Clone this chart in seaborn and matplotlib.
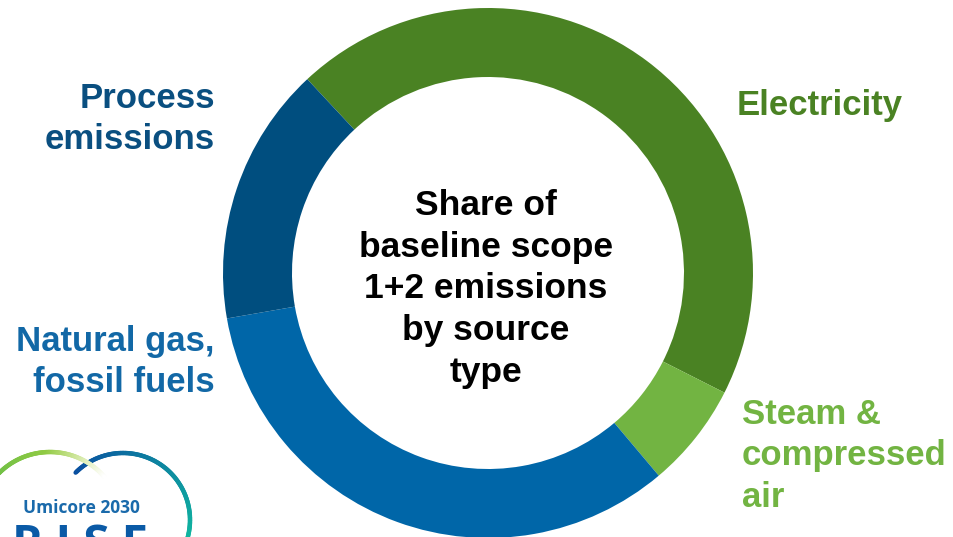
import numpy as np
import matplotlib
matplotlib.use("Agg")
import matplotlib.pyplot as plt
import seaborn as sns
from matplotlib.collections import LineCollection
from matplotlib.colors import to_rgb

# data
sources = ["Electricity", "Steam &\ncompressed\nair", "Natural gas,\nfossil fuels", "Process\nemissions"]
shares = [44.4, 6.4, 33.4, 15.8]
colors = ["#4a8223", "#72b442", "#0066a8", "#004e7f"]
label_colors = ["#4a8223", "#72b442", "#1268a6", "#0a4f80"]
center_title = "Share of\nbaseline scope\n1+2 emissions\nby source\ntype"

sns.set_theme(style="white")
plt.rcParams['font.family'] = ['Liberation Sans', 'DejaVu Sans']

W, H = 954, 537
fig = plt.figure(figsize=(W / 100, H / 100), dpi=100)
fig.patch.set_facecolor("white")

# donut
cx, cy, R = 488, 273, 265
ax = fig.add_axes([(cx - R) / W, (H - cy - R) / H, 2 * R / W, 2 * R / H])
ax.pie(shares, colors=colors, startangle=133, counterclock=False, radius=1,
       wedgeprops=dict(width=69 / R, edgecolor="none"))
ax.set_xlim(-1, 1)
ax.set_ylim(-1, 1)
ax.set_aspect("equal")
ax.axis("off")

# overlay in pixel coordinates for labels and logo
ov = fig.add_axes([0, 0, 1, 1])
ov.set_xlim(0, W)
ov.set_ylim(H, 0)
ov.axis("off")

ov.text(486, 289, center_title, ha="center", va="center", fontsize=25.5,
        fontweight="bold", color="black", linespacing=1.34)

# label positions (x, y, ha)
label_pos = [(737, 105, "left"), (742, 456, "left"), (215, 362, "right"), (215, 119, "right")]
for name, (x, y, ha), c in zip(sources, label_pos, label_colors):
    ov.text(x, y, name, ha=ha, va="center", fontsize=25, fontweight="bold",
            color=c, linespacing=1.33, multialignment=ha)

# logo: two arcs with gradients
def grad_arc(xc, yc, r, t0, t1, c0, c1, fade=False):
    t = np.linspace(np.radians(t0), np.radians(t1), 120)
    x = xc + r * np.cos(t)
    y = yc - r * np.sin(t)
    pts = np.array([x, y]).T.reshape(-1, 1, 2)
    segs = np.concatenate([pts[:-1], pts[1:]], axis=1)
    a = np.array(to_rgb(c0))
    b = np.array(to_rgb(c1))
    f = np.linspace(0, 1, len(segs))[:, None]
    cols = a * (1 - f) + b * f
    if fade:
        w = np.clip((f - 0.6) / 0.4, 0, 1)
        cols = cols * (1 - w) + np.ones(3) * w
    ov.add_collection(LineCollection(segs, colors=cols, linewidths=3.2, capstyle="round"))

grad_arc(123, 520, 67, 135, -20, "#0a4fa0", "#10b8a0")
grad_arc(50, 524, 72, 170, 40, "#58b848", "#b6d640", fade=True)

ov.text(81, 508, "Umicore 2030", ha="center", va="center", fontsize=12.5,
        fontweight="bold", color="#1a6aab", family="Open Sans", fontstretch="condensed")
ov.text(80, 522, "R I S E", ha="center", va="top", fontsize=34,
        fontweight="bold", color="#0a5aa6", family="Open Sans")

fig.savefig("out.png", dpi=100, facecolor="white")
